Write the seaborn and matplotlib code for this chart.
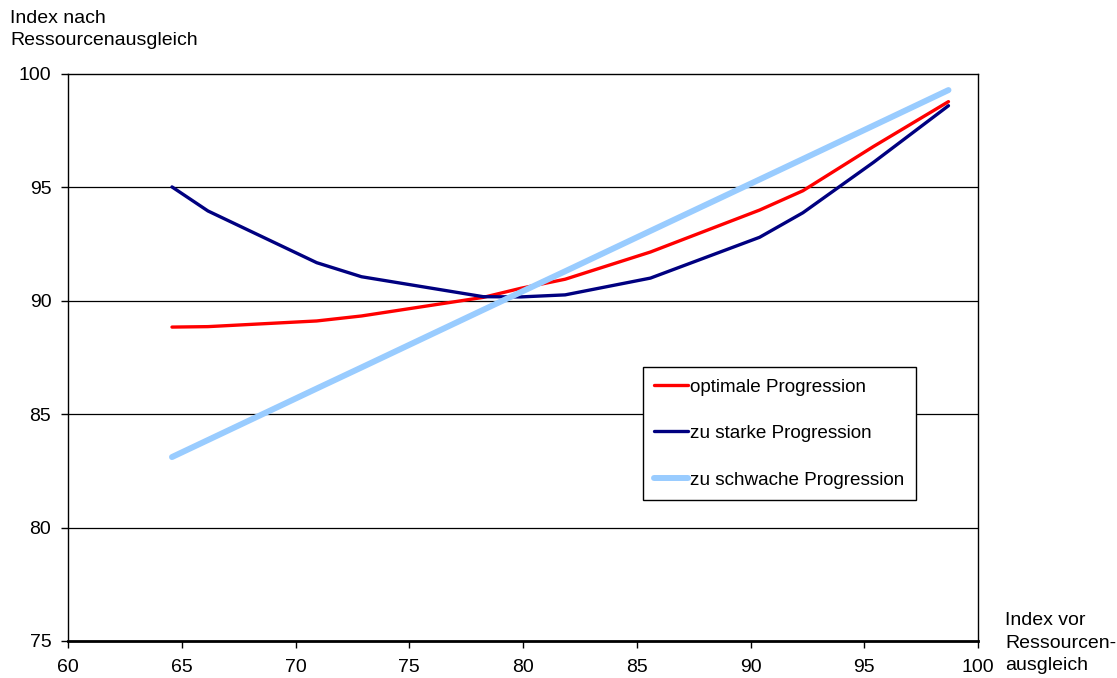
import matplotlib
matplotlib.use("Agg")
import matplotlib.pyplot as plt
import seaborn as sns
import pandas as pd

# Index before equalisation (x) for the computed municipalities
index_vor = [64.57, 66.15, 70.93, 72.9, 78.25, 79.9, 81.85, 85.6, 90.4, 92.3, 95.4, 98.7]

# Index after equalisation for the three progression variants
optimale = [88.84, 88.86, 89.11, 89.33, 90.15, 90.55, 90.95, 92.15, 94.0, 94.85, 96.8, 98.78]
zu_starke = [95.02, 93.96, 91.68, 91.06, 90.18, 90.17, 90.26, 91.0, 92.8, 93.88, 96.1, 98.6]
zu_schwache = [83.11, 83.86, 86.13, 87.06, 89.6, 90.38, 91.3, 93.08, 95.35, 96.25, 97.72, 99.29]

series_names = ["optimale Progression", "zu starke Progression", "zu schwache Progression"]
series_colors = ["#FF0000", "#000080", "#99CCFF"]
series_widths = [2.4, 2.4, 4.3]

x_ticks = [60, 65, 70, 75, 80, 85, 90, 95, 100]
y_ticks = [75, 80, 85, 90, 95, 100]

frames = []
for name, vals in zip(series_names, [optimale, zu_starke, zu_schwache]):
    frames.append(pd.DataFrame({"vor": index_vor, "nach": vals, "Variante": name}))
df = pd.concat(frames, ignore_index=True)

sns.set_theme(style="white")
plt.rcParams["font.family"] = ["Liberation Sans", "DejaVu Sans"]

FS = 14
LEG_FS = 13.6

fig = plt.figure(figsize=(11.17, 6.78), dpi=100)
ax = fig.add_axes([0.0609, 0.0546, 0.8147, 0.8363])

# horizontal gridlines
for yv in y_ticks[1:-1]:
    ax.axhline(yv, color="#000000", lw=0.9, zorder=0)

for name, col, lw in zip(series_names, series_colors, series_widths):
    sub = df[df["Variante"] == name]
    sns.lineplot(data=sub, x="vor", y="nach", ax=ax, color=col, lw=lw,
                 label=name, sort=False, estimator=None)

ax.set_xlim(60, 100)
ax.set_ylim(75, 100)
ax.set_xticks(x_ticks)
ax.set_yticks(y_ticks)
ax.set_xticklabels([str(v) for v in x_ticks], fontsize=FS)
ax.set_yticklabels([str(v) for v in y_ticks], fontsize=FS)
ax.set_xlabel("")
ax.set_ylabel("")
ax.tick_params(axis="both", direction="out", length=5, width=1, color="black",
               bottom=True, left=True, labelcolor="black")
ax.tick_params(axis="x", pad=8)
ax.tick_params(axis="y", pad=7)

for side in ["left", "right", "top"]:
    ax.spines[side].set_color("black")
    ax.spines[side].set_linewidth(1.0)
ax.spines["bottom"].set_color("black")
ax.spines["bottom"].set_linewidth(2.0)

leg = ax.legend(loc="upper left", bbox_to_anchor=(0.632, 0.4832), frameon=True,
                fancybox=False, edgecolor="black", fontsize=LEG_FS, handlelength=1.8,
                handletextpad=0.1, labelspacing=1.55, borderpad=0.6,
                borderaxespad=0)
leg.get_frame().set_linewidth(1.0)
leg.get_frame().set_alpha(1)
for t in leg.get_texts():
    t.set_color("black")

fig.text(10 / 1117, 1 - 29.5 / 678, "Index nach\nRessourcenausgleich", fontsize=FS,
         ha="left", va="center", linespacing=1.42, color="black")
fig.text(1005 / 1117, 1 - 643 / 678, "Index vor\nRessourcen-\nausgleich", fontsize=FS,
         ha="left", va="center", linespacing=1.42, color="black")

fig.savefig("out.png", dpi=100)
